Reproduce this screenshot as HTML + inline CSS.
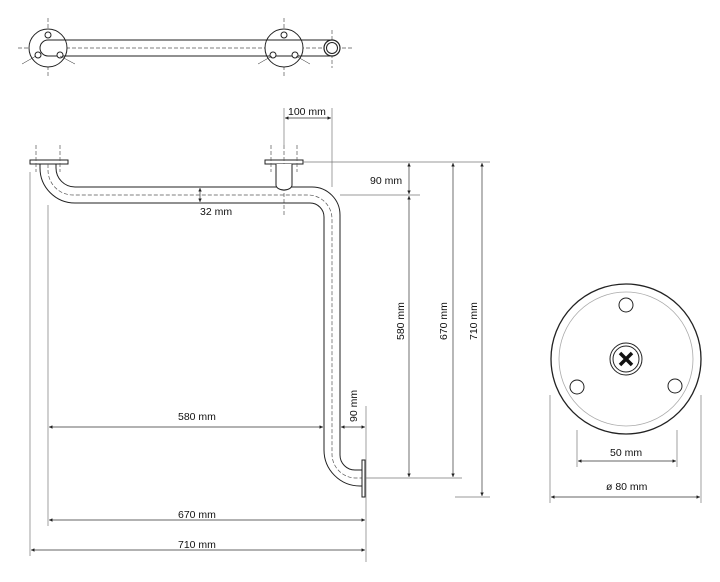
<!DOCTYPE html>
<html><head><style>body{margin:0;background:#fff}svg{display:block}text{font-family:"Liberation Sans",sans-serif;font-size:10.5px;fill:#111}</style></head><body>
<svg width="720" height="582" viewBox="0 0 720 582" xmlns="http://www.w3.org/2000/svg">
<defs><marker id="a" viewBox="0 0 6 6" refX="6" refY="3" markerWidth="5" markerHeight="5" orient="auto-start-reverse"><path d="M0,0L6,3L0,6z" fill="#222"/></marker></defs>
<g fill="none" stroke="#222" stroke-width="1">
<g stroke="#555" stroke-width="0.7" stroke-dasharray="4,2">
<line x1="18" y1="48" x2="352" y2="48"/><line x1="48" y1="18" x2="48" y2="78"/><line x1="284" y1="18" x2="284" y2="78"/><line x1="332" y1="30" x2="332" y2="68"/></g>
<circle cx="48" cy="48" r="19" fill="#fff"/><circle cx="284" cy="48" r="19" fill="#fff"/>
<line x1="48" y1="40" x2="330" y2="40"/><line x1="48" y1="56" x2="330" y2="56"/>
<path d="M48,40 A8,8 0 0 0 48,56" />
<circle cx="48" cy="35" r="3" fill="#fff"/><circle cx="38" cy="55" r="3" fill="#fff"/><circle cx="60" cy="55" r="3" fill="#fff"/>
<circle cx="284" cy="35" r="3" fill="#fff"/><circle cx="273" cy="55" r="3" fill="#fff"/><circle cx="295" cy="55" r="3" fill="#fff"/>
<line x1="22" y1="64" x2="36" y2="56" stroke-width="0.5"/><line x1="60" y1="56" x2="75" y2="64" stroke-width="0.5"/>
<line x1="258" y1="64" x2="272" y2="56" stroke-width="0.5"/><line x1="296" y1="56" x2="310" y2="64" stroke-width="0.5"/>
<circle cx="332" cy="48" r="8" fill="#fff" stroke-width="1.2"/><circle cx="332" cy="48" r="5.5"/>
<rect x="30" y="160" width="38" height="4" fill="#fff"/><rect x="265" y="160" width="38" height="4" fill="#fff"/>
<g stroke="#555" stroke-width="0.7" stroke-dasharray="4,2">
<line x1="36" y1="145" x2="36" y2="172"/><line x1="60" y1="145" x2="60" y2="172"/><line x1="271" y1="145" x2="271" y2="172"/><line x1="297" y1="145" x2="297" y2="172"/>
<line x1="284" y1="145" x2="284" y2="215"/>
<path d="M48,164 V170 A25,25 0 0 0 73,195 H308 A24,24 0 0 1 332,219 V454 A24,24 0 0 0 356,478 H364"/>
</g>
<path d="M40,164 V168 A35,35 0 0 0 75,203 H310 A14,14 0 0 1 324,217 V450 A36,36 0 0 0 360,486 H363"/>
<path d="M56,164 V168 A19,19 0 0 0 75,187 H312 A28,28 0 0 1 340,215 V455 A15,15 0 0 0 355,470 H363"/>
<path d="M276,164 V185 A8,5 0 0 0 292,185 V164" fill="#fff"/>
<rect x="362" y="460" width="3" height="37" fill="#fff"/>
<g stroke="#777" stroke-width="0.7">
<line x1="284" y1="108" x2="284" y2="145"/><line x1="332" y1="108" x2="332" y2="187"/>
<line x1="303" y1="162" x2="490" y2="162"/><line x1="340" y1="195" x2="420" y2="195"/>
<line x1="366" y1="478" x2="462" y2="478"/><line x1="455" y1="497" x2="490" y2="497"/>
<line x1="48" y1="205" x2="48" y2="526"/><line x1="30" y1="172" x2="30" y2="556"/><line x1="366" y1="406" x2="366" y2="562"/>
<line x1="577" y1="430" x2="577" y2="467"/><line x1="677" y1="430" x2="677" y2="467"/>
<line x1="550" y1="395" x2="550" y2="503"/><line x1="701" y1="395" x2="701" y2="503"/>
</g>
<g stroke="#333" stroke-width="0.7" marker-start="url(#a)" marker-end="url(#a)">
<line x1="285" y1="118" x2="331" y2="118"/>
<line x1="200" y1="188" x2="200" y2="202"/>
<line x1="409" y1="163" x2="409" y2="194"/>
<line x1="409" y1="196" x2="409" y2="477"/>
<line x1="453" y1="163" x2="453" y2="477"/>
<line x1="482" y1="163" x2="482" y2="496"/>
<line x1="49" y1="427" x2="323" y2="427"/>
<line x1="341" y1="427" x2="365" y2="427"/>
<line x1="49" y1="520" x2="365" y2="520"/>
<line x1="31" y1="550" x2="365" y2="550"/>
<line x1="578" y1="461" x2="676" y2="461"/>
<line x1="551" y1="497" x2="700" y2="497"/>
</g>
<circle cx="626" cy="359" r="75" stroke-width="1.3"/>
<circle cx="626" cy="359" r="67" stroke="#aaa" stroke-width="0.8"/>
<circle cx="626" cy="305" r="7"/><circle cx="577" cy="387" r="7"/><circle cx="675" cy="386" r="7"/>
<circle cx="626" cy="359" r="16"/><circle cx="626" cy="359" r="13"/>
<path d="M620,353L632,365M632,353L620,365" stroke="#111" stroke-width="3.5"/>
</g>
<text x="288" y="115">100 mm</text>
<text x="370" y="184">90 mm</text>
<text x="200" y="215">32 mm</text>
<text x="178" y="420">580 mm</text>
<text x="178" y="518">670 mm</text>
<text x="178" y="548">710 mm</text>
<text x="610" y="456">50 mm</text>
<text x="606" y="490">ø 80 mm</text>
<text transform="translate(404,340) rotate(-90)">580 mm</text>
<text transform="translate(447,340) rotate(-90)">670 mm</text>
<text transform="translate(477,340) rotate(-90)">710 mm</text>
<text transform="translate(357,422) rotate(-90)">90 mm</text>
</svg>
</body></html>
